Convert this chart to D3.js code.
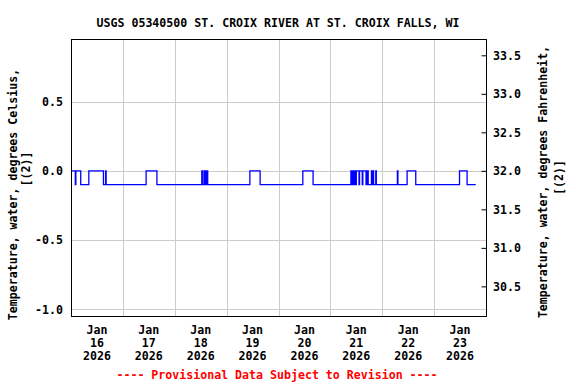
<!DOCTYPE html>
<html>
<head>
<meta charset="utf-8">
<script src="https://cdn.jsdelivr.net/npm/d3@7"></script>
<style>
  body { margin: 0; background: #fff; }
  text { font-family: "DejaVu Sans Mono", monospace; font-weight: bold; font-size: 11.6px; fill: #000; }
</style>
</head>
<body>
<div id="chart"></div>
<script>
var svgWidth = 576;
var svgHeight = 384;

var margin = { top: 39, right: 90, bottom: 68, left: 71 };
var width = 486 - margin.left;
var height = 316 - margin.top;

// readings: times where the water temperature changed, and the new value (deg C)
var changeTimes = [
  "2026-01-16 00:30", "2026-01-16 02:00", "2026-01-16 02:15", "2026-01-16 04:30",
  "2026-01-16 08:15", "2026-01-16 15:00", "2026-01-16 16:00", "2026-01-16 16:15",
  "2026-01-17 10:45", "2026-01-17 15:45",
  "2026-01-18 12:30", "2026-01-18 12:45", "2026-01-18 13:30", "2026-01-18 13:45",
  "2026-01-18 14:00", "2026-01-18 14:15", "2026-01-18 14:30", "2026-01-18 14:45",
  "2026-01-18 15:00", "2026-01-18 15:15",
  "2026-01-19 10:45", "2026-01-19 15:30",
  "2026-01-20 11:15", "2026-01-20 16:00",
  "2026-01-21 09:30", "2026-01-21 09:45", "2026-01-21 10:00", "2026-01-21 10:15",
  "2026-01-21 10:30", "2026-01-21 10:45", "2026-01-21 11:00", "2026-01-21 11:15",
  "2026-01-21 11:30", "2026-01-21 11:45", "2026-01-21 12:00", "2026-01-21 13:15",
  "2026-01-21 13:30", "2026-01-21 14:45", "2026-01-21 15:00", "2026-01-21 16:30",
  "2026-01-21 16:45", "2026-01-21 17:00", "2026-01-21 17:15", "2026-01-21 17:30",
  "2026-01-21 19:00", "2026-01-21 19:15", "2026-01-21 19:45", "2026-01-21 20:00",
  "2026-01-21 21:00", "2026-01-21 21:15",
  "2026-01-22 07:00", "2026-01-22 07:15", "2026-01-22 11:30", "2026-01-22 15:30",
  "2026-01-23 11:45", "2026-01-23 15:15"
];
var changeValues = [
  0.0, -0.1, 0.0, -0.1,
  0.0, -0.1, 0.0, -0.1,
  0.0, -0.1,
  0.0, -0.1, 0.0, -0.1,
  0.0, -0.1, 0.0, -0.1,
  0.0, -0.1,
  0.0, -0.1,
  0.0, -0.1,
  0.0, -0.1, 0.0, -0.1,
  0.0, -0.1, 0.0, -0.1,
  0.0, -0.1, 0.0, -0.1,
  0.0, -0.1, 0.0, -0.1,
  0.0, -0.1, 0.0, -0.1,
  0.0, -0.1, 0.0, -0.1,
  0.0, -0.1,
  0.0, -0.1, 0.0, -0.1,
  0.0, -0.1
];
var lastReading = "2026-01-23 19:15";

var celsiusTicks = [-1.0, -0.5, 0.0, 0.5];
var fahrenheitTicks = [30.5, 31.0, 31.5, 32.0, 32.5, 33.0, 33.5];
var dayTicks = ["2026-01-16", "2026-01-17", "2026-01-18", "2026-01-19",
                "2026-01-20", "2026-01-21", "2026-01-22", "2026-01-23"];

var parseTime = d3.timeParse("%Y-%m-%d %H:%M");
var parseDay = d3.timeParse("%Y-%m-%d");

var svg = d3.select("#chart")
  .append("svg")
  .attr("width", svgWidth)
  .attr("height", svgHeight);

var chartGroup = svg.append("g")
  .attr("transform", `translate(${margin.left}, ${margin.top})`);

// scales
var xTimeScale = d3.scaleTime()
  .domain([parseDay("2026-01-16"), parseDay("2026-01-24")])
  .range([0, width]);

var yCelsius = d3.scaleLinear()
  .domain([-1.047, 0.951])
  .range([height, 0]);

var yFahrenheit = d3.scaleLinear()
  .domain([-1.047 * 1.8 + 32, 0.951 * 1.8 + 32])
  .range([height, 0]);

// grid lines
var midnights = dayTicks.slice(1).map(parseDay);
chartGroup.append("g")
  .selectAll("line")
  .data(midnights)
  .enter()
  .append("line")
  .attr("x1", d => Math.round(xTimeScale(d)) + 0.5)
  .attr("x2", d => Math.round(xTimeScale(d)) + 0.5)
  .attr("y1", 0)
  .attr("y2", height)
  .attr("stroke", "#cccccc");

chartGroup.append("g")
  .selectAll("line")
  .data(celsiusTicks)
  .enter()
  .append("line")
  .attr("x1", 0)
  .attr("x2", width)
  .attr("y1", d => Math.round(yCelsius(d)) + 0.5)
  .attr("y2", d => Math.round(yCelsius(d)) + 0.5)
  .attr("stroke", "#cccccc");

// left axis (Celsius)
var leftAxis = d3.axisLeft(yCelsius)
  .tickValues(celsiusTicks)
  .tickSize(0)
  .tickPadding(8)
  .tickFormat(d => d.toFixed(1));

var yAxis = chartGroup.append("g").call(leftAxis);
yAxis.select(".domain").remove();
yAxis.selectAll("text").attr("font-family", null).attr("font-size", null);

// right axis (Fahrenheit)
var rightAxis = d3.axisRight(yFahrenheit)
  .tickValues(fahrenheitTicks)
  .tickSize(-5)
  .tickPadding(7)
  .tickFormat(d => d.toFixed(1));

var y2Axis = chartGroup.append("g")
  .attr("transform", `translate(${width}, 0)`)
  .call(rightAxis);
y2Axis.select(".domain").remove();
y2Axis.selectAll("line").attr("transform", "translate(0.5,0)");
y2Axis.selectAll("text").attr("font-family", null).attr("font-size", null);

// bottom labels at noon of each day
var noonTimes = dayTicks.map(d => d3.timeHour.offset(parseDay(d), 12));
var xLabels = chartGroup.append("g")
  .attr("transform", `translate(0, ${height})`);

var labelGroups = xLabels.selectAll("text")
  .data(noonTimes)
  .enter()
  .append("text")
  .attr("text-anchor", "middle")
  .attr("x", d => xTimeScale(d));

labelGroups.append("tspan").attr("x", d => xTimeScale(d)).attr("y", 18).text(d => d3.timeFormat("%b")(d));
labelGroups.append("tspan").attr("x", d => xTimeScale(d)).attr("y", 31).text(d => d3.timeFormat("%d")(d));
labelGroups.append("tspan").attr("x", d => xTimeScale(d)).attr("y", 44).text(d => d3.timeFormat("%Y")(d));

// data line
var readings = changeTimes.map((t, i) => ({ time: parseTime(t), value: changeValues[i] }));
readings.push({ time: parseTime(lastReading), value: changeValues[changeValues.length - 1] });

var tempLine = d3.line()
  .x(d => xTimeScale(d.time))
  .y(d => yCelsius(d.value))
  .curve(d3.curveStepAfter);

chartGroup.append("path")
  .datum(readings)
  .attr("d", tempLine)
  .attr("fill", "none")
  .attr("stroke", "#0000ff")
  .attr("stroke-width", 1.3);

// frame
chartGroup.append("rect")
  .attr("x", 0.5)
  .attr("y", 0.5)
  .attr("width", width)
  .attr("height", height)
  .attr("fill", "none")
  .attr("stroke", "#000");

// title
svg.append("text")
  .attr("x", 278)
  .attr("y", 27)
  .attr("text-anchor", "middle")
  .text("USGS 05340500 ST. CROIX RIVER AT ST. CROIX FALLS, WI");

// axis titles
svg.append("text")
  .attr("transform", "translate(12.5, 194.5) rotate(-90)")
  .attr("text-anchor", "middle")
  .attr("dy", "0.35em")
  .text("Temperature, water, degrees Celsius,");
svg.append("text")
  .attr("transform", "translate(25.5, 169) rotate(-90)")
  .attr("text-anchor", "middle")
  .attr("dy", "0.35em")
  .text("[(2)]");

svg.append("text")
  .attr("transform", "translate(543, 182) rotate(-90)")
  .attr("text-anchor", "middle")
  .attr("dy", "0.35em")
  .text("Temperature, water, degrees Fahrenheit,");
svg.append("text")
  .attr("transform", "translate(558.5, 177.5) rotate(-90)")
  .attr("text-anchor", "middle")
  .attr("dy", "0.35em")
  .text("[(2)]");

// provisional note
svg.append("text")
  .attr("x", 277)
  .attr("y", 379)
  .attr("text-anchor", "middle")
  .style("fill", "#ff0000")
  .text("---- Provisional Data Subject to Revision ----");
</script>
</body>
</html>
